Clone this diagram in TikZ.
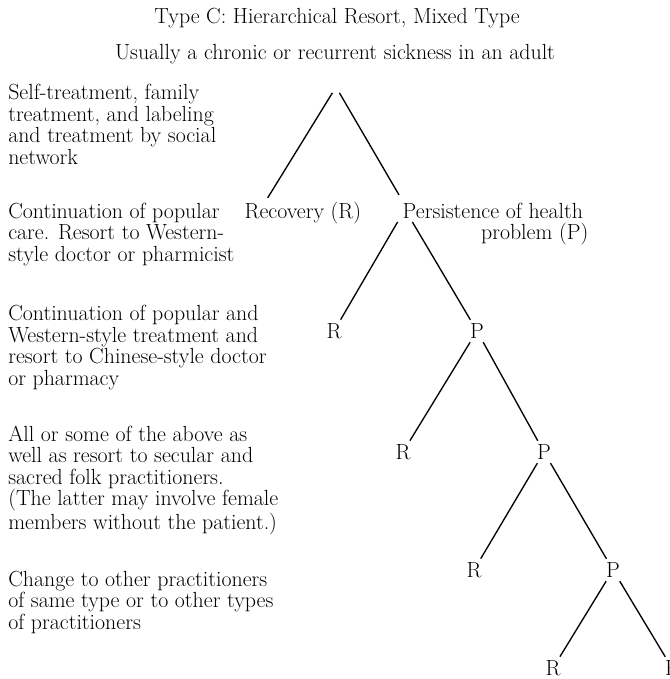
\documentclass[tikz,border=0pt]{standalone}

\begin{document}
\begin{tikzpicture}[x=0.75pt,y=-0.75pt,
	every node/.style={font=\fontsize{16.4}{16.1}\selectfont},
	note/.style={anchor=base west,align=left,inner sep=0pt},
	leaf/.style={inner sep=2.6pt},
	branch/.style={line width=1pt}]
	\useasboundingbox (0,0) rectangle (669,679);
	% headings
	\node[anchor=base] (title) at (337,23) {Type C: Hierarchical Resort, Mixed Type};
	\node[anchor=base] (case) at (335,59) {Usually a chronic or recurrent sickness in an adult};
	% stages on the left (y = baseline of the last line)
	\foreach \y/\txt [count=\i] in {%
		164/{Self-treatment, family\\treatment, and labeling\\and treatment by social\\network},%
		261/{Continuation of popular\\care. Resort to Western-\\style doctor or pharmicist},%
		385/{Continuation of popular and\\Western-style treatment and\\resort to Chinese-style doctor\\or pharmacy},%
		529/{All or some of the above as\\well as resort to secular and\\sacred folk practitioners.\\(The latter may involve female\\members without the patient.)},%
		629/{Change to other practitioners\\of same type or to other types\\of practitioners}}{
		\node[note] (stage\i) at (8,\y) {\txt};
	}
	% tree
	\node[inner sep=4.2pt] (root) at (336,87) {};
	\node[leaf,anchor=base west] (rec) at (241,218) {Recovery (R)};
	\node[leaf,anchor=base west] (pers) at (399,218) {Persistence of health};
	\node[leaf,anchor=base east] (prob) at (592,239) {problem (P)};
	\node[leaf] (r2) at (334,331) {R};
	\node[leaf] (p2) at (477,331) {P};
	\node[leaf] (r3) at (403,452) {R};
	\node[leaf] (p3) at (544,452) {P};
	\node[leaf] (r4) at (474,570) {R};
	\node[leaf] (p4) at (613,570) {P};
	\node[leaf] (r5) at (553,668) {R};
	\node[leaf] (p5) at (672,668) {P};
	\draw[branch] (root) -- ([xshift=20pt]rec.north west);
	\draw[branch] (root) -- ([yshift=3pt]pers.north west);
	\draw[branch] ([xshift=-1pt]pers.south west) -- (r2);
	\draw[branch] ([xshift=10pt]pers.south west) -- (p2);
	\foreach \a/\b in {p2/r3,p2/p3,p3/r4,p3/p4,p4/r5,p4/p5}
		\draw[branch] (\a) -- (\b);
\end{tikzpicture}
\end{document}
